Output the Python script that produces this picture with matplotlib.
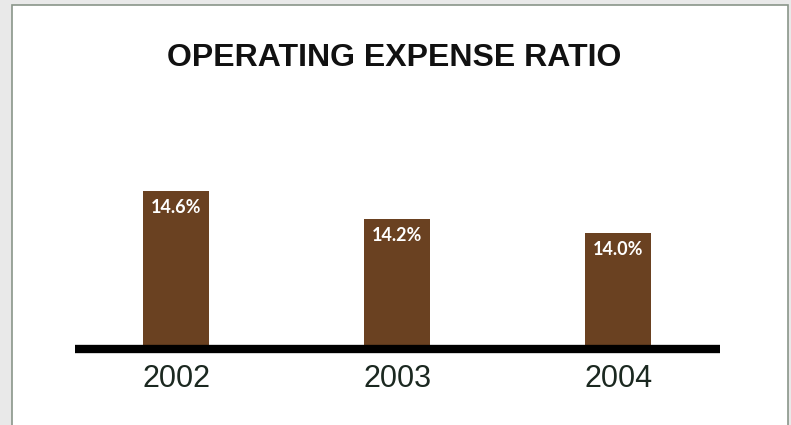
import matplotlib
matplotlib.use("Agg")
import matplotlib.pyplot as plt
from matplotlib.patches import Rectangle

# chart data
years = ["2002", "2003", "2004"]
ratios = [14.6, 14.2, 14.0]
labels = ["14.6%", "14.2%", "14.0%"]

BAR_COLOR = "#6a4121"
W, H = 791, 425

fig = plt.figure(figsize=(W / 100, H / 100), dpi=100)
fig.patch.set_facecolor("#e9e9e9")

# white panel with thin border
panel = Rectangle((12 / W, -0.02), (788 - 12) / W, 1 - 5 / H + 0.02,
                  transform=fig.transFigure, facecolor="white",
                  edgecolor="#8a968a", linewidth=1.2, zorder=0)
fig.patches.append(panel)

fig.text(394 / W, 1 - 57.5 / H, "OPERATING EXPENSE RATIO", ha="center", va="center",
         fontsize=23, fontweight="bold", family="Liberation Sans", color="#111111")

# axes: baseline at y=349px, tallest bar top at y=191px
ax_left, ax_right = 75 / W, 720 / W
ax_bottom = (H - 349) / H
ax_top = (H - 191) / H
ax = fig.add_axes([ax_left, ax_bottom, ax_right - ax_left, ax_top - ax_bottom])
ax.set_facecolor("none")
ax.set_zorder(2)

x = list(range(len(years)))
ax.bar(x, ratios, width=0.3, color=BAR_COLOR, bottom=0, zorder=2)
ax.set_ylim(12.34, 14.6)
ax.set_xlim(-0.457, 2.46)

for xi, v, lab in zip(x, ratios, labels):
    ax.text(xi, v - 0.24, lab, ha="center", va="center", color="white",
            fontsize=13, fontweight="bold", family="Lato", zorder=3)

for s in ["top", "right", "left"]:
    ax.spines[s].set_visible(False)
ax.spines["bottom"].set_linewidth(6)
ax.spines["bottom"].set_color("black")
ax.spines["bottom"].set_zorder(4)
ax.spines["bottom"].set_capstyle("butt")
ax.set_yticks([])
ax.set_xticks(x)
ax.set_xticklabels(years, fontsize=22, family="Liberation Sans", color="#1b2820")
ax.tick_params(axis="x", length=0, pad=11)

fig.savefig("out.png", dpi=100)
